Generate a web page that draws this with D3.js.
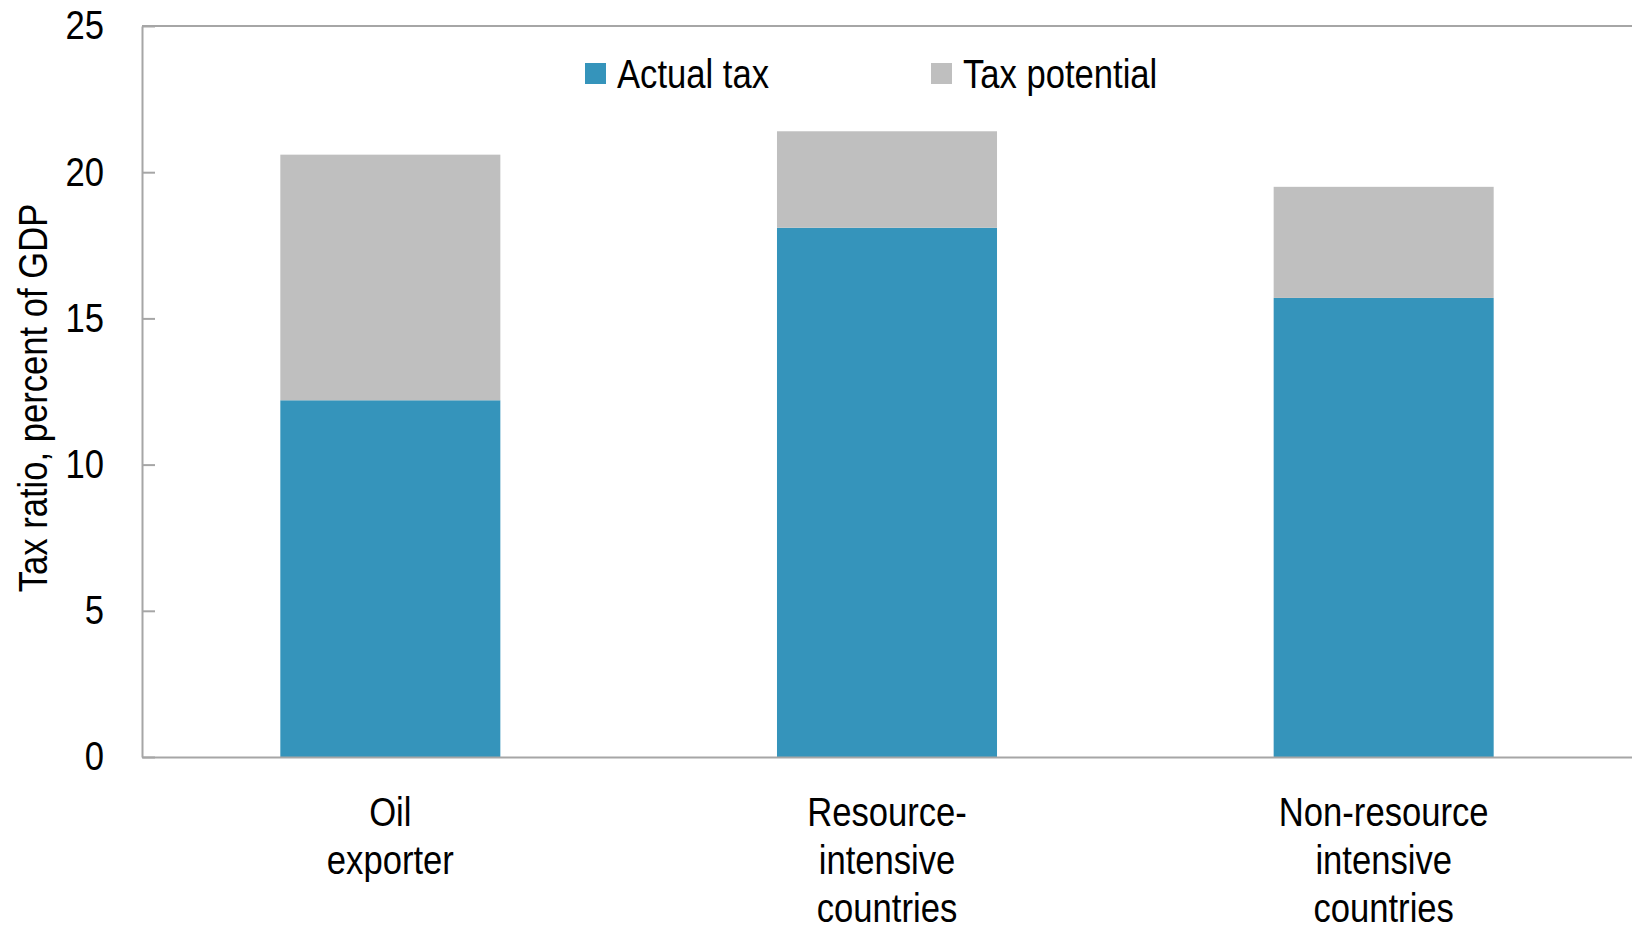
<!DOCTYPE html>
<html>
<head>
<meta charset="utf-8">
<script src="https://cdn.jsdelivr.net/npm/d3@7"></script>
<style>
  body { margin: 0; background: #fff; }
  svg text { font-family: "Liberation Sans Narrow", "Arial Narrow", "Liberation Sans", sans-serif; fill: #000; }
</style>
</head>
<body>
<div id="chart"></div>
<script>
const WIDTH = 1632;
const HEIGHT = 927;
const LEFT = 142;
const TOP = 26;
const BOTTOM = 757;
const BLUE = "#3594bb";
const GREY = "#bfbfbf";
const AXIS = "#a6a6a6";
const NARROW = 0.865;

// data
const categories = ["Oil exporter", "Resource-intensive countries", "Non-resource intensive countries"];
const categoryLines = [["Oil", "exporter"], ["Resource-", "intensive", "countries"], ["Non-resource", "intensive", "countries"]];
const actualTax = [12.2, 18.1, 15.7];
const taxPotential = [20.6, 21.4, 19.5];
const yTicks = [0, 5, 10, 15, 20, 25];
const seriesNames = ["Actual tax", "Tax potential"];

// squeeze text horizontally, no narrow font installed
const narrow = sel => sel.each(function () {
  const w = this.getComputedTextLength();
  d3.select(this).attr("textLength", w * NARROW).attr("lengthAdjust", "spacingAndGlyphs");
});

const svg = d3.select("#chart").append("svg")
  .attr("width", WIDTH)
  .attr("height", HEIGHT);

const x = d3.scaleBand()
  .domain(categories)
  .range([LEFT, WIDTH])
  .paddingInner(0.557)
  .paddingOuter(0.2785);

const y = d3.scaleLinear()
  .domain([0, 25])
  .range([BOTTOM, TOP]);

// bars: actual at bottom, gap to potential on top
svg.append("g").selectAll("rect")
  .data(categories)
  .join("rect")
  .attr("x", d => x(d))
  .attr("width", x.bandwidth())
  .attr("y", (d, i) => y(actualTax[i]))
  .attr("height", (d, i) => y(0) - y(actualTax[i]))
  .attr("fill", BLUE);

svg.append("g").selectAll("rect")
  .data(categories)
  .join("rect")
  .attr("x", d => x(d))
  .attr("width", x.bandwidth())
  .attr("y", (d, i) => y(taxPotential[i]))
  .attr("height", (d, i) => y(actualTax[i]) - y(taxPotential[i]))
  .attr("fill", GREY);

// frame top line
svg.append("line")
  .attr("x1", LEFT).attr("x2", WIDTH)
  .attr("y1", y(25)).attr("y2", y(25))
  .attr("stroke", AXIS).attr("stroke-width", 2);

// y axis
const yAxis = svg.append("g")
  .attr("transform", `translate(${LEFT},0)`)
  .call(d3.axisLeft(y).tickValues(yTicks).tickSizeInner(-13).tickSizeOuter(0).tickPadding(38));
yAxis.select(".domain").attr("stroke", AXIS).attr("stroke-width", 2);
yAxis.selectAll(".tick line").attr("stroke", AXIS).attr("stroke-width", 2);
yAxis.selectAll(".tick text").attr("font-size", 40).attr("fill", "#000").call(narrow);

// x axis
const xAxis = svg.append("g")
  .attr("transform", `translate(0,${BOTTOM})`)
  .call(d3.axisBottom(x).tickSize(0).tickFormat(""));
xAxis.select(".domain").attr("stroke", AXIS).attr("stroke-width", 2);

xAxis.selectAll(".tick").each(function (d, i) {
  const t = d3.select(this).select("text")
    .attr("font-size", 40)
    .attr("fill", "#000")
    .attr("y", 0)
    .attr("dy", null);
  categoryLines[i].forEach((line, j) => {
    t.append("tspan")
      .attr("x", 0)
      .attr("y", 69 + j * 48)
      .text(line)
      .call(narrow);
  });
});

// y label
svg.append("text")
  .attr("transform", `translate(47,398) rotate(-90)`)
  .attr("text-anchor", "middle")
  .attr("font-size", 40)
  .text("Tax ratio, percent of GDP")
  .call(narrow);

// legend
const legendX = [585, 931];
const legend = svg.append("g").selectAll("g")
  .data(seriesNames)
  .join("g")
  .attr("transform", (d, i) => `translate(${legendX[i]},63)`);
legend.append("rect")
  .attr("width", 21).attr("height", 21)
  .attr("fill", (d, i) => [BLUE, GREY][i]);
legend.append("text")
  .attr("x", 32)
  .attr("y", 25)
  .attr("font-size", 40)
  .text(d => d)
  .call(narrow);
</script>
</body>
</html>
